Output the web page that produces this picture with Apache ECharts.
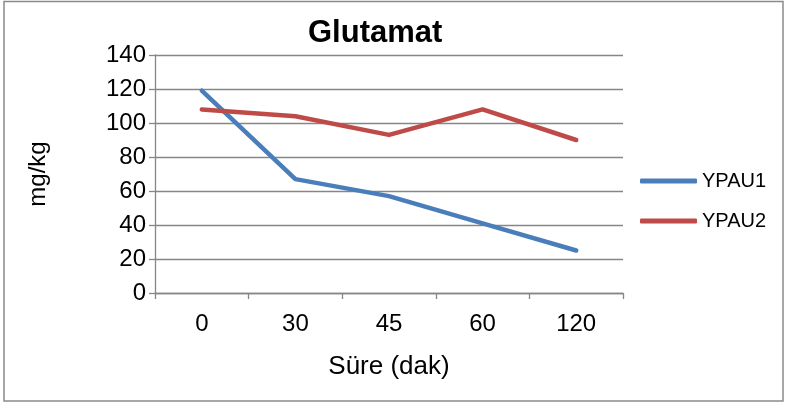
<!DOCTYPE html>
<html>
<head>
<meta charset="utf-8">
<script src="https://cdn.jsdelivr.net/npm/echarts@6/dist/echarts.min.js"></script>
<style>
html,body{margin:0;padding:0;background:#fff;}
#c{width:788px;height:407px;}
</style>
</head>
<body>
<div id="c"></div>
<script>
var categories = ['0', '30', '45', '60', '120'];
var ypau1 = [119, 67, 57, 41, 25];
var ypau2 = [108, 104, 93, 108, 90];
var seriesNames = ['YPAU1', 'YPAU2'];
var titleText = 'Glutamat';
var xName = 'Süre (dak)';
var yName = 'mg/kg';

var FONT = '"Liberation Sans", Arial, sans-serif';
var chart = echarts.init(document.getElementById('c'), null, {renderer: 'canvas'});
chart.setOption({
  animation: false,
  backgroundColor: '#ffffff',
  graphic: [{
    type: 'rect', shape: {x: 4, y: 1.5, width: 779, height: 399.5},
    style: {fill: 'none', stroke: '#8a8a8a', lineWidth: 1.5}, silent: true
  }],
  title: {
    text: titleText, left: 308, top: 18, padding: 0,
    textStyle: {fontFamily: FONT, fontWeight: 'bold', fontSize: 31, color: '#000'}
  },
  legend: {
    orient: 'vertical', left: 640, top: 171, padding: 0, itemGap: 20,
    itemWidth: 57, itemHeight: 5, icon: 'roundRect',
    textStyle: {fontFamily: FONT, fontSize: 20, color: '#000', padding: [0,0,0,0]},
    data: seriesNames
  },
  grid: {left: 155, right: 165, top: 55, bottom: 114, containLabel: false},
  xAxis: {
    type: 'category', data: categories, boundaryGap: true,
    name: xName, nameLocation: 'middle', nameGap: 61,
    nameTextStyle: {fontFamily: FONT, fontSize: 26, color: '#000'},
    axisLine: {lineStyle: {color: '#868686', width: 1.3}},
    axisTick: {show: true, length: 6, interval: 0, lineStyle: {color: '#868686', width: 1.3}},
    axisLabel: {fontFamily: FONT, fontSize: 24, color: '#000', margin: 19, interval: 0},
    splitLine: {show: false}
  },
  yAxis: {
    type: 'value', min: 0, max: 140, interval: 20,
    name: yName, nameLocation: 'middle', nameRotate: 90, nameGap: 105,
    nameTextStyle: {fontFamily: FONT, fontSize: 24, color: '#000'},
    axisLine: {show: true, lineStyle: {color: '#868686', width: 1.3}},
    axisTick: {show: true, length: 6, lineStyle: {color: '#868686', width: 1.3}},
    axisLabel: {fontFamily: FONT, fontSize: 24, color: '#000', margin: 9},
    splitLine: {show: true, lineStyle: {color: '#868686', width: 1.3}}
  },
  series: [
    {name: seriesNames[0], type: 'line', data: ypau1, symbol: 'none',
     lineStyle: {color: '#4A7EBB', width: 4.5, cap: 'round', join: 'round'},
     itemStyle: {color: '#4A7EBB'}},
    {name: seriesNames[1], type: 'line', data: ypau2, symbol: 'none',
     lineStyle: {color: '#BE4B48', width: 4.5, cap: 'round', join: 'round'},
     itemStyle: {color: '#BE4B48'}}
  ]
});
</script>
</body>
</html>
